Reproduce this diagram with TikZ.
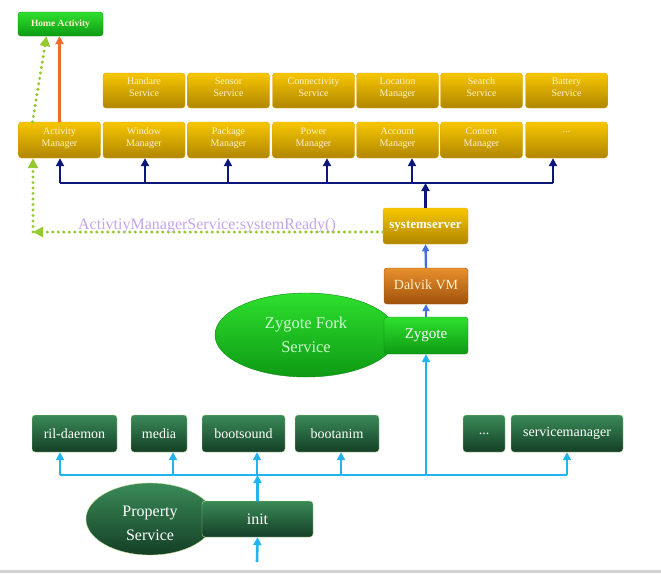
\documentclass[tikz,border=0pt]{standalone}
\usepackage{fontspec}
\setmainfont{Liberation Serif}
\usetikzlibrary{arrows.meta, shapes.geometric}

\definecolor{goldtop}{HTML}{F7C600}
\definecolor{goldbot}{HTML}{B08600}
\definecolor{goldline}{HTML}{E2A400}
\definecolor{cream}{HTML}{FFF3CC}
\definecolor{darktop}{HTML}{3A8A58}
\definecolor{darkbot}{HTML}{143F26}
\definecolor{darkline}{HTML}{B8D890}
\definecolor{limetop}{HTML}{2EE02E}
\definecolor{limebot}{HTML}{0E9A14}
\definecolor{limeline}{HTML}{0A8A10}
\definecolor{rusttop}{HTML}{E8902C}
\definecolor{rustbot}{HTML}{A0520C}
\definecolor{navyline}{HTML}{0C1778}
\definecolor{vmblue}{HTML}{4470E0}
\definecolor{initcyan}{HTML}{22B4EE}
\definecolor{dotgreen}{HTML}{96C832}
\definecolor{msglilac}{HTML}{C4A4EC}
\definecolor{redarrow}{HTML}{F06A2A}

\begin{document}
\begin{tikzpicture}[x=1pt, y=-1pt,
  goldbox/.style={draw=goldline, rounded corners=3pt, top color=goldtop,
    bottom color=goldbot, text=cream, minimum width=82pt, minimum height=35pt,
    inner sep=1pt, align=center, text depth=6pt,
    font=\fontsize{10}{12}\selectfont},
  darkbox/.style={draw=darkline, rounded corners=3pt, top color=darktop,
    bottom color=darkbot, text=white, minimum height=37pt, inner sep=1pt,
    font=\fontsize{14}{16}\selectfont},
  limebox/.style={draw=limeline, rounded corners=3pt, top color=limetop,
    bottom color=limebot, text=white, inner sep=1pt},
  navyarrow/.style={-{Triangle[length=8pt,width=8pt]}, navyline, line width=2.6pt},
  vmarrow/.style={-{Triangle[length=7pt,width=7pt]}, vmblue, line width=2.4pt},
  cyanarrow/.style={-{Triangle[length=8pt,width=8pt]}, initcyan, line width=2.6pt},
  dotarrow/.style={-{Triangle[length=10pt,width=10pt]}, dotgreen, line width=3.4pt,
    line cap=round, dash pattern=on 0pt off 5.5pt}]

\useasboundingbox (0,0) rectangle (661,573);
\fill[gray!35] (0,570) rectangle (661,573);

% top: activity manager and the managers
\node (home) [limebox, minimum width=85pt, minimum height=24pt, text=cream,
  font=\fontsize{9.5}{11}\bfseries] at (60.5,24) {Home Activity};
\node (hws) [goldbox] at (144,90.5) {Handare\\Service};
\node (sens) [goldbox] at (228.5,90.5) {Sensor\\Service};
\node (conn) [goldbox] at (313.5,90.5) {Connectivity\\Service};
\node (loc) [goldbox] at (397.5,90.5) {Location\\Manager};
\node (srch) [goldbox] at (481.5,90.5) {Search\\Service};
\node (batt) [goldbox] at (566.5,90.5) {Battery\\Service};
\node (am) [goldbox, minimum height=36pt] at (59.5,140) {Activity\\Manager};
\node (wm) [goldbox, minimum height=36pt] at (144,140) {Window\\Manager};
\node (pkg) [goldbox, minimum height=36pt] at (228.5,140) {Package\\Manager};
\node (pow) [goldbox, minimum height=36pt] at (313.5,140) {Power\\Manager};
\node (acc) [goldbox, minimum height=36pt] at (397.5,140) {Account\\Manager};
\node (cont) [goldbox, minimum height=36pt] at (481.5,140) {Content\\Manager};
\node (more) [goldbox, minimum height=36pt, text depth=16pt] at (566.5,140) {...};

\node (ss) [goldbox, minimum width=85pt, minimum height=36pt, text=white,
  text depth=3pt, font=\fontsize{13}{15}\bfseries] at (425.5,226) {systemserver};
\node (dvm) [goldbox, draw=rustbot, top color=rusttop, bottom color=rustbot,
  minimum width=84pt, minimum height=36pt, text=cream, text depth=3pt,
  font=\fontsize{14}{16}\selectfont] at (426,286) {Dalvik VM};

% zygote
\node (fork) [ellipse, draw=limeline, top color=limetop, bottom color=limebot,
  minimum width=182pt, minimum height=84pt, inner sep=0pt, align=center,
  text=green!20!white, font=\fontsize{16.5}{24}\selectfont]
  at (306,335) {Zygote Fork\\Service};
\node (zyg) [limebox, minimum width=84pt, minimum height=37pt,
  font=\fontsize{15}{17}\selectfont] at (426,335.5) {Zygote};

% native daemons
\node (ril) [darkbox, minimum width=85pt] at (74.5,433.5) {ril-daemon};
\node (media) [darkbox, minimum width=56pt] at (159,433.5) {media};
\node (snd) [darkbox, minimum width=83pt] at (243.5,433.5) {bootsound};
\node (anim) [darkbox, minimum width=84pt] at (337,433.5) {bootanim};
\node (etc) [darkbox, minimum width=42pt] at (484,433.5) {...};
\node (smgr) [darkbox, minimum width=112pt] at (567,433.5) {servicemanager};

\node (prop) [ellipse, draw=darkline, top color=darktop, bottom color=darkbot,
  minimum width=128pt, minimum height=72pt, inner sep=0pt, align=center,
  text=white, text height=44pt, font=\fontsize{16}{24}\selectfont]
  at (150,519) {Property\\Service};
\node (init) [darkbox, minimum width=111pt, minimum height=36pt,
  font=\fontsize{16}{18}\selectfont] at (257.5,519) {init};

% navy bus from systemserver
\coordinate (nb1) at (60,183);
\coordinate (nb2) at (145,183);
\coordinate (nb3) at (228,183);
\coordinate (nb4) at (327,183);
\coordinate (nb5) at (412,183);
\coordinate (nb6) at (553,183);
\draw[navyline, line width=2.6pt] (nb1) -- (nb6);
\draw[navyarrow] (ss.north) -- (ss.north |- nb1);
\draw[navyarrow] (nb1) -- (nb1 |- am.south);
\draw[navyarrow] (nb2) -- (nb2 |- wm.south);
\draw[navyarrow] (nb3) -- (nb3 |- pkg.south);
\draw[navyarrow] (nb4) -- (nb4 |- pow.south);
\draw[navyarrow] (nb5) -- (nb5 |- acc.south);
\draw[navyarrow] (nb6) -- (nb6 |- more.south);

% systemReady message back to the activity manager
\coordinate (turn) at (33,232);
\draw[dotarrow] ([yshift=-6pt]ss.west) -- (turn);
\node (msg) [text=msglilac, font=\fontsize{16}{18}\selectfont]
  at (207,226) {ActivtiyManagerService:systemReady()};
\draw[dotarrow] (turn) -- (turn |- am.south);
\draw[dotarrow] ([xshift=-27pt]am.north) -- ([xshift=-14pt]home.south);
\draw[-{Triangle[length=8pt,width=8pt]}, redarrow, line width=2.4pt]
  (am.north) -- (am.north |- home.south);

% vm chain
\draw[vmarrow] (dvm.north) -- (ss.south);
\draw[vmarrow] (zyg.north) -- (dvm.south);

% cyan bus from init
\coordinate (cb1) at (60,475);
\coordinate (cb2) at (173,475);
\coordinate (cb3) at (257,475);
\coordinate (cb4) at (341,475);
\coordinate (cb5) at (426,475);
\coordinate (cb6) at (567,475);
\coordinate (boot) at (257,562);
\draw[initcyan, line width=2.6pt] (cb1) -- (cb6);
\draw[cyanarrow] (init.north) -- (init.north |- cb1);
\draw[cyanarrow] (boot) -- (init.south);
\draw[cyanarrow] (cb1) -- (cb1 |- ril.south);
\draw[cyanarrow] (cb2) -- (cb2 |- media.south);
\draw[cyanarrow] (cb3) -- (cb3 |- snd.south);
\draw[cyanarrow] (cb4) -- (cb4 |- anim.south);
\draw[cyanarrow] (cb6) -- (cb6 |- smgr.south);
\draw[cyanarrow] (cb5) -- (zyg.south);
\end{tikzpicture}
\end{document}
